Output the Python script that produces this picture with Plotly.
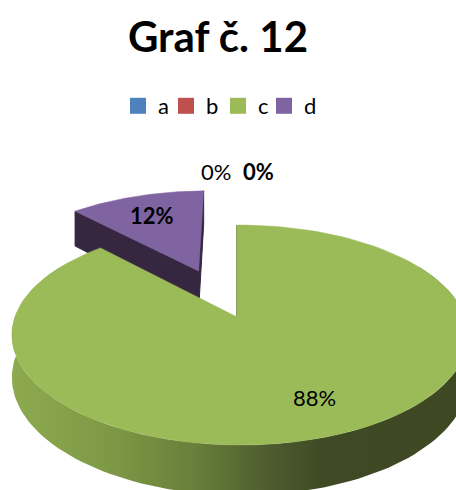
import numpy as np
import plotly.graph_objects as go

# ---- data -------------------------------------------------------------
categories = ["a", "b", "c", "d"]
values = [0, 0, 88, 12]
top_colors = ["#4F81BD", "#C0504D", "#9BBB59", "#8064A2"]
side_colors = ["#2C4A70", "#70302E", "#5F7436", "#34273F"]
explode = [0.0, 0.0, 0.0, 0.5]
label_bold = [False, True, False, True]
title_text = "Graf č. 12"

# ---- tilted-disc projection onto pixel axes ---------------------------
W, HGT = 456, 490
CX, CY = 237, 317          # page position of the pie centre
A, B, DEPTH = 225, 107, 42
P, Q = 0.164, -0.013       # perspective terms
LABEL_R = 0.72
LABEL_XSHIFT = {2: 10}     # nudge for the big slice's label
LEGEND_X = [118, 166, 218, 264]   # left edge of each legend entry (px)
FONT = "Lato, 'Open Sans', sans-serif"

# gradient used on the curved rim of the pie
rim_scale = [
    [0.00, "#8DAA50"], [0.19, "#7F9B46"], [0.25, "#7A9444"],
    [0.40, "#67803A"], [0.57, "#4D5B2E"], [0.68, "#3F4A25"], [1.00, "#3E4924"],
]


def project(u, v, z=0.0):
    s = 1.0 / (1.0 + P * v + Q * u)
    return CX + A * u * s, CY - (B * v + DEPTH * z) * s


def arc(ou, ov, t0, t1, z, n=120):
    th = np.radians(np.linspace(t0, t1, n))
    return project(ou + np.sin(th), ov + np.cos(th), z)


fig = go.Figure()

total = float(sum(values))
starts = np.concatenate([[0.0], np.cumsum(values)[:-1]]) / total * 360.0
ends = np.cumsum(values) / total * 360.0

# back slices first so that nearer ones are painted over them
order = sorted(
    [i for i in range(len(values)) if values[i] > 0],
    key=lambda i: -np.cos(np.radians((starts[i] + ends[i]) / 2)),
)

label_pos = {}
for i in order:
    t0, t1 = starts[i], ends[i]
    mid = np.radians((t0 + t1) / 2)
    ou, ov = explode[i] * np.sin(mid), explode[i] * np.cos(mid)

    # curved rim (only the part that can face the viewer)
    r0, r1 = max(t0, 60.0), min(t1, 300.0)
    if r1 > r0:
        xt, yt = arc(ou, ov, r0, r1, 0.0)
        xb, yb = arc(ou, ov, r0, r1, -1.0)
        fig.add_trace(go.Scatter(
            x=np.concatenate([xt, xb[::-1]]), y=np.concatenate([yt, yb[::-1]]),
            mode="lines", fill="toself", line=dict(width=0),
            fillgradient=dict(type="horizontal", colorscale=rim_scale),
            hoverinfo="skip", showlegend=False))

    # radial cut faces that face the viewer
    for ang, normal in ((t0, t0 - 90.0), (t1, t1 + 90.0)):
        if np.cos(np.radians(normal)) <= 1e-6:
            a = np.radians(ang)
            pts = [project(ou, ov, 0.0),
                   project(ou + np.sin(a), ov + np.cos(a), 0.0),
                   project(ou + np.sin(a), ov + np.cos(a), -1.0),
                   project(ou, ov, -1.0)]
            fig.add_trace(go.Scatter(
                x=[p[0] for p in pts] + [pts[0][0]],
                y=[p[1] for p in pts] + [pts[0][1]],
                mode="lines", fill="toself", fillcolor=side_colors[i],
                line=dict(color=side_colors[i], width=1),
                hoverinfo="skip", showlegend=False))

    # top face
    xa, ya = arc(ou, ov, t0, t1, 0.0)
    cx0, cy0 = project(ou, ov, 0.0)
    fig.add_trace(go.Scatter(
        x=np.concatenate([[cx0], xa, [cx0]]), y=np.concatenate([[cy0], ya, [cy0]]),
        mode="lines", fill="toself", fillcolor=top_colors[i],
        line=dict(color=top_colors[i], width=0.5),
        hoverinfo="skip", showlegend=False))

    label_pos[i] = project(ou + LABEL_R * np.sin(mid), ov + LABEL_R * np.cos(mid), 0.0)

# legend entries, one small legend per category so the row can be spaced freely
legend_layout = {}
for k, (name, col) in enumerate(zip(categories, top_colors)):
    key = "legend" if k == 0 else f"legend{k + 1}"
    fig.add_trace(go.Scatter(
        x=[None], y=[None], mode="markers", name=name, legend=key,
        marker=dict(symbol="square", size=16, color=col)))
    legend_layout[key] = dict(
        x=LEGEND_X[k] / W, xanchor="left", y=1 - 106 / HGT, yanchor="middle",
        font=dict(family=FONT, size=22, color="#000000"),
        bgcolor="rgba(0,0,0,0)", borderwidth=0)

# data labels
zero_idx = [i for i in range(len(values)) if values[i] == 0]
for i in range(len(values)):
    pct = f"{round(values[i] / total * 100)}%"
    txt = f"<b>{pct}</b>" if label_bold[i] else pct
    if values[i] == 0:
        k = zero_idx.index(i)
        x, y = project(0.0, 1.75, 0.0)
        x += (k - (len(zero_idx) - 1) / 2) * 43
    else:
        x, y = label_pos[i]
    fig.add_annotation(x=x, y=y, text=txt, showarrow=False,
                       xshift=LABEL_XSHIFT.get(i, 0),
                       font=dict(family=FONT, size=22, color="#000000"))

fig.update_layout(
    width=W, height=HGT,
    margin=dict(l=0, r=0, t=0, b=0),
    paper_bgcolor="white", plot_bgcolor="white",
    title=dict(text=f"<b>{title_text}</b>", x=0.478, xanchor="center",
               y=1 - 37 / HGT, yanchor="middle",
               font=dict(family=FONT, size=42, color="#000000")),
    xaxis=dict(range=[0, W], visible=False, fixedrange=True),
    yaxis=dict(range=[HGT, 0], visible=False, fixedrange=True),
    showlegend=True,
    **legend_layout,
)

fig.write_html("out.html")
